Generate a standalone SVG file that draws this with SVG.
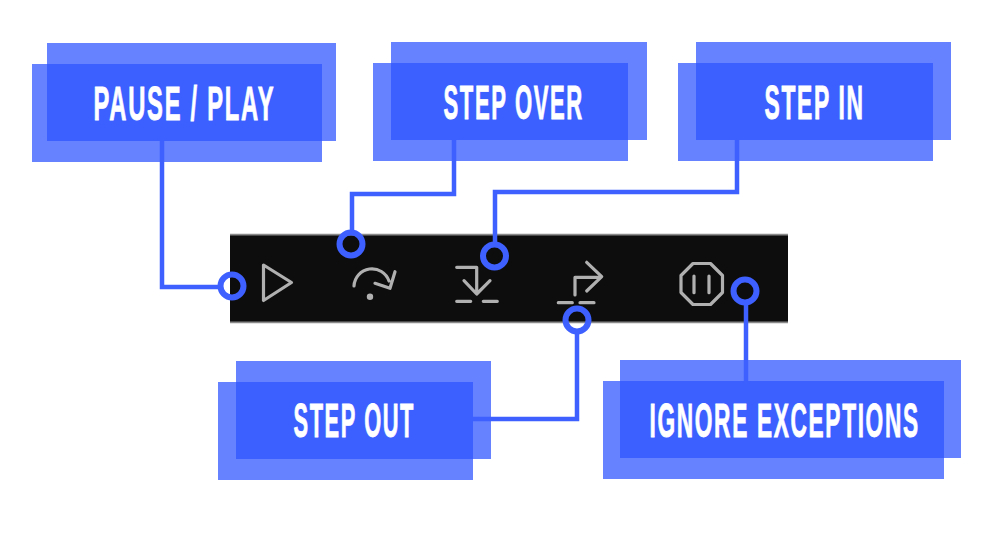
<svg xmlns="http://www.w3.org/2000/svg" width="1000" height="535" viewBox="0 0 1000 535">
<style>
.box{fill:#2d54ff;opacity:.73}
.lbl{font-family:"Liberation Sans",Arial,sans-serif;font-weight:700;font-size:48px;letter-spacing:3.500px;fill:#fff;stroke:#fff;stroke-width:.7;vector-effect:non-scaling-stroke}
.conn{fill:none;stroke:#3d60ff;stroke-width:4.5}
.ring{fill:none;stroke:#3d60ff;stroke-width:6}
.ico{fill:none;stroke:#b0b0b0;stroke-width:3.200;stroke-linecap:round;stroke-linejoin:round}
</style>
<rect width="1000" height="535" fill="#fff"/>
<g id="toolbar">
<rect x="230" y="234" width="558" height="89" fill="#0d0d0d"/>
<path d="M230 234.600H788M230 322.400H788" stroke="#8a8a8a" stroke-width="1.600" fill="none"/>
<path class="ico" d="M263.500 265L291.500 282.500L263.500 300.500Z"/>
<path class="ico" d="M354 286A18 18 0 0 1 389 281M395 271.700L390 288.300L375 283.300"/>
<circle cx="370" cy="296.700" r="3.200" fill="#b0b0b0"/>
<path class="ico" d="M456.700 267.300H476.700V293M464 280.700L476.700 294L490 280.700M456.700 301.300H470.700M483.300 301.300H497.300"/>
<path class="ico" d="M575 295V277.300H600M586.700 262.300L601.700 276.700L586.700 291M558.300 302.700H572.300M580 302.700H594"/>
<path class="ico" d="M693 263.500H710.500L722.500 275.500V292.500L710.500 304.500H693L681 292.500V275.500ZM694 276V292.700M709 276V292.700"/>
</g>
<g id="node-pause-play">
<rect class="box" x="47" y="43" width="289" height="98"/>
<rect class="box" x="32" y="64" width="290" height="98"/>
<text class="lbl" transform="translate(93.500 119.700) scale(.495 1)">PAUSE / PLAY</text>
</g>
<g id="node-step-over">
<rect class="box" x="391" y="42" width="256" height="98"/>
<rect class="box" x="373" y="63" width="255" height="98"/>
<text class="lbl" transform="translate(443.500 118.700) scale(.46 1)">STEP OVER</text>
</g>
<g id="node-step-in">
<rect class="box" x="696" y="42" width="255" height="98"/>
<rect class="box" x="678" y="63" width="255" height="98"/>
<text class="lbl" transform="translate(764.500 118.700) scale(.477 1)">STEP IN</text>
</g>
<g id="node-step-out">
<rect class="box" x="236" y="361" width="255" height="98"/>
<rect class="box" x="218" y="382" width="255" height="98"/>
<text class="lbl" transform="translate(293.500 436.700) scale(.455 1)">STEP OUT</text>
</g>
<g id="node-ignore-exceptions">
<rect class="box" x="620" y="360" width="341" height="98"/>
<rect class="box" x="603" y="381" width="341" height="98"/>
<text class="lbl" transform="translate(649.500 436.700) scale(.473 1)">IGNORE EXCEPTIONS</text>
</g>
<g id="connectors">
<path class="conn" d="M162 141V287H220"/>
<circle class="ring" cx="232" cy="286" r="11.500"/>
<path class="conn" d="M454 140V194H352V232"/>
<circle class="ring" cx="351" cy="244" r="11.500"/>
<path class="conn" d="M737 140V192H495V244"/>
<circle class="ring" cx="494.500" cy="256" r="11.500"/>
<path class="conn" d="M473 419H577V333"/>
<circle class="ring" cx="577" cy="320" r="11.500"/>
<path class="conn" d="M746 381V303"/>
<circle class="ring" cx="745" cy="291" r="11.500"/>
</g>
</svg>
